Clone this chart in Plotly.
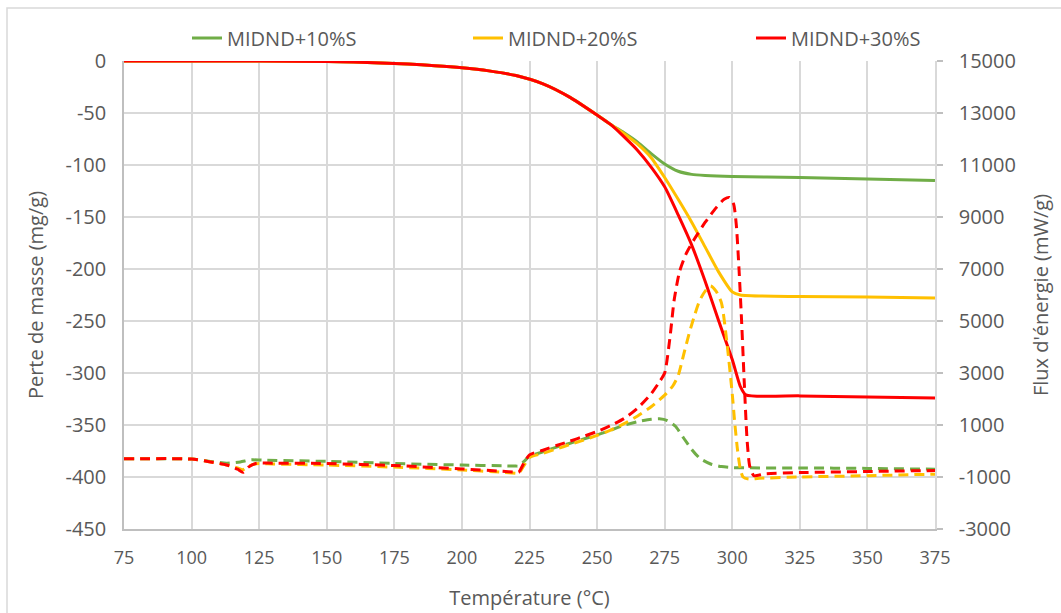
import plotly.graph_objects as go

# ---- Perte de masse (mg/g), axe gauche ----
temp_m_common = [75, 100, 125, 150, 160, 170, 180, 190, 200, 210, 220, 230, 240, 250, 255]
mass_common = [0, 0, 0, -0.5, -1, -2, -3, -4.5, -6.5, -9.5, -14, -22, -35, -52, -61]

temp_m10 = [260, 265, 270, 275, 280, 285, 290, 300, 325, 350, 375]
mass_10 = [-69, -78, -89, -99, -106, -109, -110, -111, -112, -113.5, -115]

temp_m20 = [260, 265, 270, 275, 280, 285, 290, 295, 300, 303, 325, 350, 375]
mass_20 = [-70, -80, -93, -112, -133, -155, -179, -203, -222, -225, -226.5, -227, -228]

temp_m30 = [260, 265, 270, 275, 280, 285, 290, 295, 300, 303, 305, 325, 350, 375]
mass_30 = [-73, -86, -102, -121, -148, -177, -212, -250, -287, -313, -321, -322, -323, -324]

# ---- Flux d'énergie (mW/g), axe droit ----
temp_f10 = [75, 100, 107, 113, 118, 122, 126, 150, 175, 200, 215, 220, 221, 223, 225,
            230, 235, 240, 245, 250, 255, 260, 265, 270, 273, 276, 279, 282, 285, 288,
            292, 296, 300, 325, 350, 375]
flux_10 = [-300, -310, -400, -470, -420, -340, -350, -400, -480, -540, -570, -580, -580, -400, -200,
           -30, 150, 300, 460, 620, 800, 990, 1130, 1220, 1240, 1170, 950, 500, 60, -280,
           -500, -600, -640, -650, -670, -700]

temp_f20 = [75, 100, 107, 113, 117, 119, 121, 124, 130, 150, 175, 200, 215, 220, 221, 223, 225,
            230, 235, 240, 245, 250, 255, 260, 265, 270, 275, 278, 280, 282, 284, 286, 288,
            290, 292, 294, 296, 298, 300, 301, 302, 303, 304, 306, 310, 325, 350, 375]
flux_20 = [-300, -310, -420, -540, -650, -720, -580, -490, -500, -540, -620, -730, -820, -860, -860, -550, -250,
           -90, 80, 250, 420, 600, 800, 1050, 1350, 1700, 2150, 2500, 2900, 3700, 4500, 5200, 5800,
           6150, 6350, 6150, 5700, 4200, 2200, 1000, 0, -700, -1000, -1080, -1050, -1000, -950, -890]

temp_f30 = [75, 100, 107, 113, 117, 119, 121, 124, 130, 150, 175, 200, 215, 220, 221, 223, 225,
            230, 235, 240, 245, 250, 255, 260, 265, 270, 273, 275, 277, 278.5, 280.5, 283, 286,
            290, 294, 297, 299, 300.5, 301.5, 302.5, 303.5, 304.5, 305.5, 306.5, 308, 312, 325, 350, 375]
flux_30 = [-300, -310, -420, -540, -700, -820, -620, -470, -470, -480, -560, -690, -780, -820, -820, -450, -150,
           30, 210, 380, 560, 750, 980, 1250, 1650, 2200, 2650, 3000, 4400, 5800, 6900, 7600, 8150,
           8800, 9350, 9680, 9750, 9500, 8700, 7000, 4900, 2500, 400, -600, -950, -880, -830, -790, -750]

series_names = ["MIDND+10%S", "MIDND+20%S", "MIDND+30%S"]
colors = ["#70AD47", "#FFC000", "#FF0000"]
legend_ids = ["legend", "legend2", "legend3"]
legend_left_px = [187, 468, 751]

x_ticks = list(range(75, 376, 25))
left_ticks = list(range(0, -451, -50))
right_ticks = list(range(-3000, 15001, 2000))

text_color = "#595959"
grid_color = "#D9D9D9"
font_family = "Open Sans"

# plot area in pixels
PLOT_L, PLOT_R, PLOT_T, PLOT_B = 124, 935, 61, 529
PLOT_W, PLOT_H = PLOT_R - PLOT_L, PLOT_B - PLOT_T

fig = go.Figure()

mass_sets = [
    (temp_m_common + temp_m10, mass_common + mass_10),
    (temp_m_common + temp_m20, mass_common + mass_20),
    (temp_m_common + temp_m30, mass_common + mass_30),
]
flux_sets = [(temp_f10, flux_10), (temp_f20, flux_20), (temp_f30, flux_30)]

for name, color, lg, (tx, ty) in zip(series_names, colors, legend_ids, mass_sets):
    fig.add_trace(go.Scatter(
        x=tx, y=ty, name=name, mode="lines",
        line=dict(color=color, width=3, shape="spline", smoothing=0.6),
        yaxis="y", showlegend=True, legend=lg,
    ))

for name, color, (tx, ty) in zip(series_names, colors, flux_sets):
    fig.add_trace(go.Scatter(
        x=tx, y=ty, name=name, mode="lines",
        line=dict(color=color, width=3, dash="10px,6px", shape="spline", smoothing=0.6),
        yaxis="y2", showlegend=False,
    ))

legend_y = (PLOT_B - 38) / PLOT_H
legend_layout = {}
for lg, left in zip(legend_ids, legend_left_px):
    legend_layout[lg] = dict(
        orientation="h", x=(left - PLOT_L) / PLOT_W, xanchor="left",
        y=legend_y, yanchor="middle",
        font=dict(size=20, color=text_color, family=font_family),
        bgcolor="rgba(0,0,0,0)",
    )

fig.update_layout(
    width=1061, height=613,
    margin=dict(l=PLOT_L, r=1061 - PLOT_R, t=PLOT_T, b=613 - PLOT_B, autoexpand=False),
    paper_bgcolor="white", plot_bgcolor="white",
    font=dict(family=font_family, color=text_color, size=18),
    showlegend=True,
    **legend_layout,
    xaxis=dict(
        range=[75, 375], tickvals=x_ticks, ticktext=[str(v) for v in x_ticks],
        showgrid=True, gridcolor=grid_color, gridwidth=1.5,
        showline=True, linecolor="#BFBFBF", linewidth=1.5,
        ticks="", ticklabelstandoff=12,
        tickfont=dict(size=18, color=text_color),
        title=dict(text="Température (°C)", font=dict(size=20, color=text_color), standoff=23),
        zeroline=False,
    ),
    yaxis=dict(
        range=[-450, 0], tickvals=left_ticks, ticktext=[str(v) for v in left_ticks],
        showgrid=True, gridcolor=grid_color, gridwidth=1.5,
        showline=True, linecolor="#BFBFBF", linewidth=1.5,
        ticks="", ticklabelstandoff=12,
        tickfont=dict(size=20, color=text_color),
        title=dict(text="Perte de masse (mg/g)", font=dict(size=20, color=text_color), standoff=17),
        zeroline=False,
    ),
    yaxis2=dict(
        range=[-3000, 15000], tickvals=right_ticks, ticktext=[str(v) for v in right_ticks],
        overlaying="y", side="right", showgrid=False,
        showline=True, linecolor=grid_color, linewidth=1.5,
        ticks="outside", ticklen=6, tickcolor="#BFBFBF", tickwidth=1.5,
        ticklabelstandoff=12,
        tickfont=dict(size=20, color=text_color),
        title=dict(text="Flux d'énergie (mW/g)", font=dict(size=20, color=text_color), standoff=19),
        zeroline=False,
    ),
    shapes=[dict(
        type="rect", xref="paper", yref="paper",
        x0=(7 - PLOT_L) / PLOT_W, x1=1.3, y0=-0.4, y1=(PLOT_B - 8) / PLOT_H,
        line=dict(color=grid_color, width=1.5), fillcolor="rgba(0,0,0,0)", layer="below",
    )],
)

fig.write_html("out.html")
